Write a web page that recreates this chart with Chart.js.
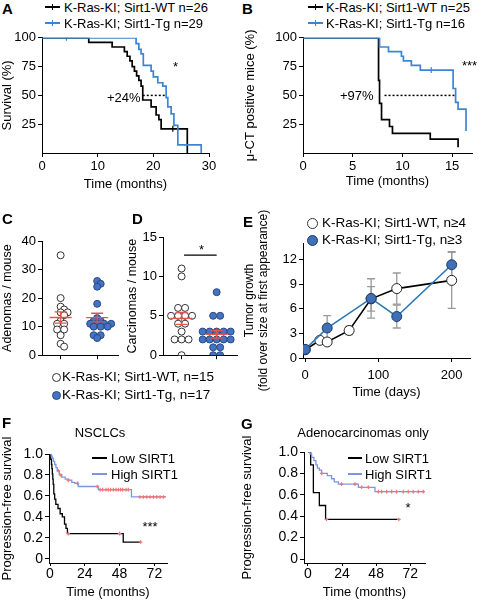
<!DOCTYPE html>
<html>
<head>
<meta charset="utf-8">
<title>Sirt1 / K-Ras survival figure</title>
<script src="https://cdn.jsdelivr.net/npm/chart.js"></script>
<style>
    body { margin: 0; background: #fff; }
    #fig {
        position: relative;
        width: 479px;
        height: 601px;
        overflow: hidden;
        font-family: "Liberation Sans", Arial, sans-serif;
        color: #000;
    }
    #fig canvas { position: absolute; }
    .t { position: absolute; white-space: nowrap; line-height: 1; font-size: 13px; transform: translateY(-50%); }
    .c { transform: translate(-50%, -50%); }
    .lbl { font-weight: bold; font-size: 15px; }
    .sw { position: absolute; height: 2px; }
    .tk { position: absolute; width: 1px; height: 6px; }
    .dot { position: absolute; border-radius: 50%; box-sizing: border-box; }
</style>
</head>
<body>
<div id="fig">
    <canvas id="chartA"></canvas>
    <canvas id="chartB"></canvas>
    <canvas id="chartC"></canvas>
    <canvas id="chartD"></canvas>
    <canvas id="chartE"></canvas>
    <canvas id="chartF"></canvas>
    <canvas id="chartG"></canvas>

    <!-- panel letters -->
    <div class="t lbl" style="left:2px; top:8px">A</div>
    <div class="t lbl" style="left:242px; top:8px">B</div>
    <div class="t lbl" style="left:2px; top:218px">C</div>
    <div class="t lbl" style="left:132px; top:218px">D</div>
    <div class="t lbl" style="left:243px; top:221px">E</div>
    <div class="t lbl" style="left:2px; top:422px">F</div>
    <div class="t lbl" style="left:241px; top:423px">G</div>

    <!-- A legend -->
    <div class="sw" style="left:45px; top:6px; width:15px; background:#000"></div>
    <div class="tk" style="left:52px; top:4px; background:#000"></div>
    <div class="t" style="left:64px; top:7px">K-Ras-KI; Sirt1-WT n=26</div>
    <div class="sw" style="left:45px; top:22px; width:15px; background:#3b86d4"></div>
    <div class="tk" style="left:52px; top:20px; background:#3b86d4"></div>
    <div class="t" style="left:64px; top:23px">K-Ras-KI; Sirt1-Tg n=29</div>
    <div class="t" style="left:173px; top:66px">*</div>
    <div class="t" style="left:107px; top:97px">+24%</div>

    <!-- B legend -->
    <div class="sw" style="left:308px; top:6px; width:15px; background:#000"></div>
    <div class="tk" style="left:315px; top:4px; background:#000"></div>
    <div class="t" style="left:326px; top:7px">K-Ras-KI; Sirt1-WT n=25</div>
    <div class="sw" style="left:308px; top:22px; width:15px; background:#3b86d4"></div>
    <div class="tk" style="left:315px; top:20px; background:#3b86d4"></div>
    <div class="t" style="left:326px; top:23px">K-Ras-KI; Sirt1-Tg n=16</div>
    <div class="t" style="left:462px; top:65px">***</div>
    <div class="t" style="left:340px; top:95px">+97%</div>

    <!-- C/D legend -->
    <div class="dot" style="left:52px; top:373px; width:9px; height:9px; border:1px solid #333; background:#fff"></div>
    <div class="t" style="left:62px; top:377px; font-size:13.5px">K-Ras-KI; Sirt1-WT, n=15</div>
    <div class="dot" style="left:52px; top:391px; width:9px; height:9px; border:1px solid #2b4a80; background:#4472c4"></div>
    <div class="t" style="left:62px; top:395px; font-size:13.5px">K-Ras-KI; Sirt1-Tg, n=17</div>
    <div class="t" style="left:199px; top:249px">*</div>

    <!-- E legend -->
    <div class="dot" style="left:307px; top:218px; width:11px; height:11px; border:1px solid #333; background:#fff"></div>
    <div class="t" style="left:322px; top:223px; font-size:13.5px">K-Ras-KI; Sirt1-WT, n≥4</div>
    <div class="dot" style="left:307px; top:235px; width:11px; height:11px; border:1px solid #1d3a66; background:#3f6fb7"></div>
    <div class="t" style="left:322px; top:240px; font-size:13.5px">K-Ras-KI; Sirt1-Tg, n≥3</div>

    <!-- F -->
    <div class="t c" style="left:100px; top:432px">NSCLCs</div>
    <div class="sw" style="left:92px; top:457px; width:15px; background:#000"></div>
    <div class="t" style="left:111px; top:458px">Low SIRT1</div>
    <div class="sw" style="left:92px; top:473px; width:15px; background:#7d95e6"></div>
    <div class="t" style="left:111px; top:474px">High SIRT1</div>
    <div class="t c" style="left:150px; top:526px">***</div>

    <!-- G -->
    <div class="t c" style="left:363px; top:432px">Adenocarcinomas only</div>
    <div class="sw" style="left:348px; top:457px; width:14px; background:#000"></div>
    <div class="t" style="left:365px; top:458px">Low SIRT1</div>
    <div class="sw" style="left:348px; top:473px; width:14px; background:#7d95e6"></div>
    <div class="t" style="left:365px; top:474px">High SIRT1</div>
    <div class="t c" style="left:408px; top:507px">*</div>
</div>

<script>
    // ---- A: overall survival (months, %) ----
    const aTimeWT = [0, 8.4, 12.6, 14.8, 15.3, 15.8, 16.2, 16.6, 17.0, 17.4, 17.8, 18.1, 19.6, 20.5, 21.0, 21.4, 26.1];
    const aSurvWT = [100, 96, 92, 88, 84, 80, 75, 71, 67, 63, 58, 46, 40, 33, 29, 21, 0];
    const aTimeTg = [0, 16.9, 17.4, 17.8, 18.2, 19.6, 20.0, 20.8, 21.7, 22.3, 22.6, 23.2, 23.7, 24.4, 28.6];
    const aSurvTg = [100, 95, 90, 86, 76, 71, 66, 61, 58, 48, 40, 34, 24, 7, 0];
    const aCensorWT = [23.5];
    const aCensorTg = [4.4];
    const aMedian = [18.1, 22.3];
    const aTicksX = [0, 10, 20, 30];
    const aTicksY = [25, 50, 75, 100];

    // ---- B: time to micro-CT detection (months, %) ----
    const bTimeWT = [0, 7.6, 7.7, 7.9, 8.7, 9.0, 12.8, 15.6];
    const bSurvWT = [100, 63, 43, 29, 23, 17, 12, 5];
    const bTimeTg = [0, 7.7, 8.6, 9.9, 10.1, 10.9, 11.8, 15.1, 15.35, 15.6, 16.4];
    const bSurvTg = [100, 92, 88, 84, 80, 76, 72, 56, 44, 38, 19];
    const bCensorTg = [12.9];
    const bMedian = [8.2, 15.35];
    const bTicksX = [0, 5, 10, 15];
    const bTicksY = [25, 50, 75, 100];

    // ---- C / D: tumour counts per mouse ----
    const groups = ['Sirt1-WT', 'Sirt1-Tg'];
    const adenomaWT = [35, 20, 17, 16, 15, 15, 14, 12, 11, 11, 9, 9, 7, 4, 3];
    const adenomaTg = [26, 25, 24, 18, 13, 12, 12, 11, 11, 11, 11, 10, 10, 10, 7, 7, 6];
    const carcinomaWT = [11, 10, 6, 6, 5, 5, 5, 5, 4, 4, 3, 2, 2, 2, 0];
    const carcinomaTg = [8, 5, 5, 3, 3, 3, 3, 3, 2, 2, 2, 2, 2, 1, 1, 0, 0];
    const cTicksY = [0, 10, 20, 30, 40];
    const dTicksY = [0, 5, 10, 15];
    const dSigBar = [0.07, 1.0];
    const dSigLevel = 12.7;

    // ---- E: tumour growth (days, fold) ----
    const eDaysWT = [0, 20, 30, 60, 90, 125, 200];
    const eFoldWT = [1, 2.15, 1.95, 3.35, 7.2, 8.45, 9.45];
    const eErrWT = [0, 0, 0, 0.5, 1.5, 1.9, 3.4];
    const eDaysTg = [0, 30, 90, 125, 200];
    const eFoldTg = [1.05, 3.65, 7.25, 5.05, 11.35];
    const eErrTg = [0, 1.5, 2.4, 1.4, 1.6];
    const eTicksX = [0, 100, 200];
    const eTicksY = [0, 3, 6, 9, 12];

    // ---- F: progression-free survival, NSCLCs ----
    const fTimeLow = [0, 0.5, 1.0, 1.3, 1.6, 1.9, 2.2, 2.6, 3.2, 4.0, 5.5, 7.0, 8.5, 10.0, 11.0, 12.0, 50.5, 62.5];
    const fSurvLow = [1, 0.95, 0.9, 0.86, 0.81, 0.76, 0.71, 0.62, 0.57, 0.52, 0.48, 0.43, 0.40, 0.33, 0.29, 0.24, 0.16, 0.16];
    const fCensorLow = [12.6, 48, 62.5];
    const fTimeHigh = [0, 1.0, 1.5, 2.3, 3.2, 4.1, 5.0, 6.4, 8.0, 10.5, 12.6, 15.0, 17.2, 19.5, 33.3, 56.2, 80];
    const fSurvHigh = [1, 0.98, 0.96, 0.93, 0.9, 0.87, 0.84, 0.8, 0.78, 0.76, 0.75, 0.73, 0.72, 0.69, 0.66, 0.59, 0.59];
    const fCensorHigh = [5.7, 7.4, 12.6, 18.9, 32.6, 34.5, 36.3, 38.6, 40.2, 41.8, 43.7, 45.5, 47.1, 48.7, 50.1, 52.4, 54,
                         62, 64.4, 66.7, 69, 71.3, 73.6, 75.9, 78.2];
    const fgTicksX = [0, 24, 48, 72];
    const fgTicksY = [0, 0.2, 0.4, 0.6, 0.8, 1];

    // ---- G: progression-free survival, adenocarcinomas only ----
    const gTimeLow = [0, 1.9, 3.8, 8.0, 12.4, 64];
    const gSurvLow = [1, 0.88, 0.62, 0.5, 0.37, 0.37];
    const gCensorLow = [13, 64];
    const gTimeHigh = [0, 1.5, 2.6, 4.2, 5.6, 6.6, 8.0, 9.6, 13.6, 16.6, 18.5, 21.4, 35.5, 47.2, 82];
    const gSurvHigh = [1, 0.98, 0.95, 0.92, 0.88, 0.85, 0.83, 0.80, 0.78, 0.75, 0.72, 0.70, 0.67, 0.63, 0.63];
    const gCensorHigh = [9.6, 23.7, 33.1, 37.8, 42.5, 49.5, 51.9, 55.4, 58.9, 62.4, 67.1, 70.6, 74.1, 77.7, 81.2];

    const BLUE = '#3b86d4';
    const BLUE_F = '#7d95e6';
    const RED = '#f27474';

    Chart.defaults.font.family = '"Liberation Sans", Arial, sans-serif';
    Chart.defaults.font.size = 13;
    Chart.defaults.color = '#000';
    Chart.defaults.plugins.legend.display = false;
    Chart.defaults.plugins.tooltip.enabled = false;

    function xy(xs, ys) {
        return xs.map((v, i) => ({x: v, y: ys[i]}));
    }

    function survAt(times, surv, t) {
        let s = surv[0];
        for (let i = 0; i < times.length; i++) {
            if (times[i] <= t) s = surv[i];
        }
        return s;
    }

    function kmLine(times, surv, color, width) {
        return {data: xy(times, surv), borderColor: color, borderWidth: width, stepped: true, pointRadius: 0, fill: false};
    }

    function censor(times, surv, at, color, style) {
        const tick = style === 'line';
        return {
            data: at.map(t => ({x: t, y: survAt(times, surv, t)})),
            showLine: false,
            pointStyle: style,
            pointRotation: tick ? 90 : 0,
            pointRadius: tick ? 3 : 1.8,
            borderColor: color,
            backgroundColor: color,
            pointBorderWidth: tick ? 1.2 : 1.2
        };
    }

    function axis(min, max, ticks, tickSize, title, titleSize) {
        return {
            type: 'linear',
            min: min,
            max: max,
            afterBuildTicks: ax => { ax.ticks = ticks.map(v => ({value: v})); },
            grid: {drawOnChartArea: false, tickLength: 4, color: '#000'},
            border: {color: '#000', width: 1},
            ticks: {color: '#000', font: {size: tickSize}, padding: 2},
            title: title ? {display: true, text: title, color: '#000', font: {size: titleSize || 13}, padding: 0}
                         : {display: false}
        };
    }

    // place a canvas and pin its plot area to page pixels [left, top, right, bottom]
    function makeChart(id, pos, area, config) {
        const [x, y, w, h] = pos;
        const cv = document.getElementById(id);
        cv.width = w;
        cv.height = h;
        cv.style.left = x + 'px';
        cv.style.top = y + 'px';
        const o = config.options;
        o.responsive = false;
        o.animation = false;
        o.devicePixelRatio = 1;
        o.layout = {padding: {left: 0, top: area[1] - y, right: x + w - area[2], bottom: 0}};
        o.scales.y.afterFit = s => { s.width = area[0] - x; };
        o.scales.x.afterFit = s => { s.height = y + h - area[3]; };
        return new Chart(cv, config);
    }

    // red mean +/- SEM markers for the dot plots
    const meanSem = {
        id: 'meanSem',
        afterDatasetsDraw(chart) {
            const {ctx, scales: {x, y}} = chart;
            chart.data.datasets.forEach(ds => {
                if (!ds.values) return;
                const n = ds.values.length;
                const m = ds.values.reduce((a, b) => a + b, 0) / n;
                const sd = Math.sqrt(ds.values.reduce((a, b) => a + (b - m) * (b - m), 0) / (n - 1));
                const se = sd / Math.sqrt(n);
                const cx = x.getPixelForValue(ds.cat);
                const ym = y.getPixelForValue(m);
                const yt = y.getPixelForValue(m + se);
                const yb = y.getPixelForValue(m - se);
                ctx.save();
                ctx.strokeStyle = '#e5554b';
                ctx.lineWidth = 1.3;
                ctx.beginPath();
                ctx.moveTo(cx - 11, ym); ctx.lineTo(cx + 11, ym);
                ctx.moveTo(cx, yt); ctx.lineTo(cx, yb);
                ctx.moveTo(cx - 6, yt); ctx.lineTo(cx + 6, yt);
                ctx.moveTo(cx - 6, yb); ctx.lineTo(cx + 6, yb);
                ctx.stroke();
                ctx.restore();
            });
        }
    };

    // grey error bars drawn under the growth curves
    const errBars = {
        id: 'errBars',
        beforeDatasetsDraw(chart) {
            const {ctx, scales: {x, y}} = chart;
            ctx.save();
            ctx.strokeStyle = '#9a9a9a';
            ctx.lineWidth = 1.3;
            chart.data.datasets.forEach(ds => {
                if (!ds.errors) return;
                ds.data.forEach((p, i) => {
                    const e = ds.errors[i];
                    if (!e) return;
                    const cx = x.getPixelForValue(p.x);
                    const t = y.getPixelForValue(p.y + e);
                    const b = y.getPixelForValue(p.y - e);
                    ctx.beginPath();
                    ctx.moveTo(cx, t); ctx.lineTo(cx, b);
                    ctx.moveTo(cx - 4, t); ctx.lineTo(cx + 4, t);
                    ctx.moveTo(cx - 4, b); ctx.lineTo(cx + 4, b);
                    ctx.stroke();
                });
            });
            ctx.restore();
        }
    };

    // simple beeswarm: equal values side by side, near neighbours nudged aside
    function swarm(vals, yPix, d, minGap) {
        const levels = [...new Set(vals)].sort((a, b) => b - a);
        const placed = [];
        const out = new Array(vals.length).fill(0);
        levels.forEach(v => {
            const idx = [];
            vals.forEach((u, i) => { if (u === v) idx.push(i); });
            const n = idx.length;
            const py = yPix(v);
            for (let k = 0; k < 60; k++) {
                const c = (k % 2 ? 1 : -1) * Math.ceil(k / 2) * d / 2;
                const xs = idx.map((_, j) => c + (j - (n - 1) / 2) * d);
                const ok = xs.every(px => placed.every(p => Math.hypot(p.x - px, p.y - py) >= minGap));
                if (ok) {
                    idx.forEach((i, j) => { out[i] = xs[j]; placed.push({x: xs[j], y: py}); });
                    break;
                }
            }
        });
        return out;
    }

    function spreadDots(chart) {
        const xs = chart.scales.x, ys = chart.scales.y;
        const pxPerX = Math.abs(xs.getPixelForValue(1) - xs.getPixelForValue(0));
        chart.data.datasets.forEach(ds => {
            if (!ds.values) return;
            const off = swarm(ds.values, v => ys.getPixelForValue(v), 7, 4.3);
            ds.data = ds.values.map((v, i) => ({x: ds.cat + off[i] / pxPerX, y: v}));
        });
        chart.update('none');
    }

    function dotSet(values, cat, fill, border) {
        return {
            values: values,
            cat: cat,
            data: values.map(v => ({x: cat, y: v})),
            showLine: false,
            pointRadius: 3.5,
            pointBackgroundColor: fill,
            pointBorderColor: border,
            pointBorderWidth: 1
        };
    }

    // ---------- A ----------
    makeChart('chartA', [0, 28, 220, 164], [42, 37, 209, 153], {
        type: 'line',
        data: {datasets: [
            kmLine(aTimeTg, aSurvTg, BLUE, 1.7),
            kmLine(aTimeWT, aSurvWT, '#000', 1.7),
            censor(aTimeTg, aSurvTg, aCensorTg, BLUE, 'line'),
            censor(aTimeWT, aSurvWT, aCensorWT, '#000', 'line'),
            {data: aMedian.map(t => ({x: t, y: 50})), borderColor: '#000', borderWidth: 1.5, borderDash: [2, 2], pointRadius: 0}
        ]},
        options: {scales: {
            x: axis(0, 30, aTicksX, 13, 'Time (months)'),
            y: axis(0, 100, aTicksY, 13, 'Survival (%)')
        }}
    });

    // ---------- B ----------
    makeChart('chartB', [243, 28, 236, 161], [303, 37, 472, 153], {
        type: 'line',
        data: {datasets: [
            kmLine(bTimeTg, bSurvTg, BLUE, 1.7),
            kmLine(bTimeWT, bSurvWT, '#000', 1.7),
            censor(bTimeTg, bSurvTg, bCensorTg, BLUE, 'line'),
            {data: bMedian.map(t => ({x: t, y: 50})), borderColor: '#000', borderWidth: 1.5, borderDash: [2, 2], pointRadius: 0}
        ]},
        options: {scales: {
            x: axis(0, 17, bTicksX, 13, 'Time (months)'),
            y: axis(0, 100, bTicksY, 13, 'μ-CT positive mice (%)')
        }}
    });

    // ---------- C ----------
    const cX = axis(-0.51, 1.57, [0, 1], 13, null);
    cX.ticks.callback = () => '';
    const chartC = makeChart('chartC', [0, 225, 125, 140], [42, 241, 118, 357], {
        type: 'scatter',
        data: {labels: groups, datasets: [
            dotSet(adenomaWT, 0, '#fff', '#333'),
            dotSet(adenomaTg, 1, '#4472c4', '#2b4a80')
        ]},
        options: {scales: {x: cX, y: axis(0, 40, cTicksY, 13, 'Adenomas / mouse', 12.5)}},
        plugins: [meanSem]
    });
    spreadDots(chartC);

    // ---------- D ----------
    const dX = axis(-0.53, 1.58, [0, 1], 13, null);
    dX.ticks.callback = () => '';
    const chartD = makeChart('chartD', [125, 225, 120, 140], [163, 237, 237, 356], {
        type: 'scatter',
        data: {labels: groups, datasets: [
            dotSet(carcinomaWT, 0, '#fff', '#333'),
            dotSet(carcinomaTg, 1, '#4472c4', '#2b4a80'),
            {data: dSigBar.map(v => ({x: v, y: dSigLevel})), showLine: true, borderColor: '#000', borderWidth: 1.3, pointRadius: 0}
        ]},
        options: {scales: {x: dX, y: axis(0, 15, dTicksY, 13, 'Carcinomas / mouse', 12.5)}},
        plugins: [meanSem]
    });
    spreadDots(chartD);

    // ---------- E ----------
    const eX = axis(-3, 225, eTicksX, 13, 'Time (days)');
    eX.ticks.padding = 6;
    eX.title.padding = {top: 0, bottom: 15};
    const eY = axis(0, 14, eTicksY, 13, ['Tumor growth', '(fold over size at first appearance)'], 12);
    makeChart('chartE', [242, 170, 237, 245], [303, 243, 470, 358], {
        type: 'line',
        data: {datasets: [
            {data: xy(eDaysTg, eFoldTg), errors: eErrTg, borderColor: '#2b78b8', borderWidth: 1.6, pointRadius: 5,
             pointBackgroundColor: '#3f6fb7', pointBorderColor: '#1d3a66', pointBorderWidth: 1},
            {data: xy(eDaysWT, eFoldWT), errors: eErrWT, borderColor: '#000', borderWidth: 1.6, pointRadius: 5,
             pointBackgroundColor: '#fff', pointBorderColor: '#222', pointBorderWidth: 1}
        ]},
        options: {scales: {x: eX, y: eY}},
        plugins: [errBars]
    });

    // ---------- F ----------
    const fX = axis(-0.7, 80.7, fgTicksX, 14, 'Time (months)');
    fX.grid.tickLength = 3;
    fX.ticks.padding = 0;
    fX.title.padding = {top: 0, bottom: 1};
    makeChart('chartF', [0, 420, 175, 181], [49, 454, 167, 563], {
        type: 'line',
        data: {datasets: [
            censor(fTimeHigh, fSurvHigh, fCensorHigh, RED, 'cross'),
            censor(fTimeLow, fSurvLow, fCensorLow, RED, 'cross'),
            kmLine(fTimeHigh, fSurvHigh, BLUE_F, 1.3),
            kmLine(fTimeLow, fSurvLow, '#000', 1.3)
        ]},
        options: {scales: {x: fX, y: axis(-0.04, 1, fgTicksY, 14, 'Progression-free survival')}}
    });

    // ---------- G ----------
    const gX = axis(-2.8, 82.4, fgTicksX, 14, 'Time (months)');
    gX.grid.tickLength = 3;
    gX.ticks.padding = 0;
    gX.title.padding = {top: 0, bottom: 1};
    makeChart('chartG', [240, 420, 239, 181], [304, 452, 425, 563], {
        type: 'line',
        data: {datasets: [
            censor(gTimeHigh, gSurvHigh, gCensorHigh, RED, 'cross'),
            censor(gTimeLow, gSurvLow, gCensorLow, RED, 'cross'),
            kmLine(gTimeHigh, gSurvHigh, BLUE_F, 1.3),
            kmLine(gTimeLow, gSurvLow, '#000', 1.3)
        ]},
        options: {scales: {x: gX, y: axis(-0.037, 1, fgTicksY, 14, 'Progression-free survival')}}
    });
</script>
</body>
</html>
